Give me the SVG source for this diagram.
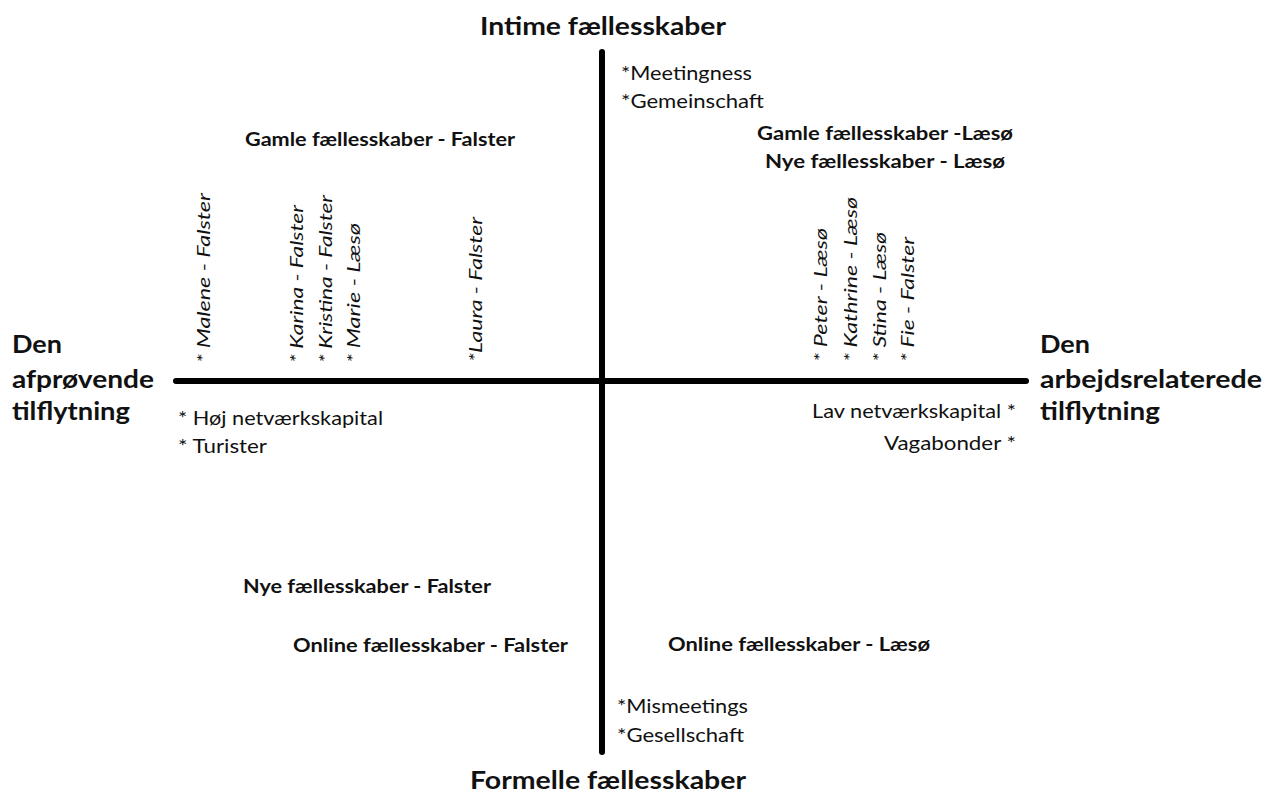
<svg xmlns="http://www.w3.org/2000/svg" width="1273" height="796" viewBox="0 0 1273 796">
<style>
text{font-family:Lato,"Open Sans","Liberation Sans",sans-serif;fill:#111;}
.t{font-weight:bold;font-size:25px;}
.b{font-weight:bold;font-size:19px;}
.r{font-size:20px;}
.i{font-style:italic;font-size:18px;}
.ax{stroke:#000;stroke-width:6;stroke-linecap:round;fill:none;}
</style>
<rect width="1273" height="796" fill="#fff"/>
<g id="connectors">
<line class="ax" x1="602" y1="52" x2="602" y2="752"/>
<line class="ax" x1="176" y1="381" x2="1026" y2="381"/>
</g>
<g id="top">
<text class="t" x="480" y="35" textLength="246" lengthAdjust="spacingAndGlyphs">Intime fællesskaber</text>
<text class="r" x="621" y="80" textLength="131" lengthAdjust="spacingAndGlyphs">*Meetingness</text>
<text class="r" x="621" y="108" textLength="143" lengthAdjust="spacingAndGlyphs">*Gemeinschaft</text>
</g>
<g id="bottom">
<text class="t" x="470" y="789" textLength="276" lengthAdjust="spacingAndGlyphs">Formelle fællesskaber</text>
<text class="r" x="617" y="713" textLength="131" lengthAdjust="spacingAndGlyphs">*Mismeetings</text>
<text class="r" x="617" y="742" textLength="127" lengthAdjust="spacingAndGlyphs">*Gesellschaft</text>
</g>
<g id="left">
<text class="t" x="12" y="353" textLength="50" lengthAdjust="spacingAndGlyphs">Den</text>
<text class="t" x="12" y="388" textLength="142" lengthAdjust="spacingAndGlyphs">afprøvende</text>
<text class="t" x="12" y="420" textLength="118" lengthAdjust="spacingAndGlyphs">tilflytning</text>
<text class="r" x="178" y="425" textLength="205" lengthAdjust="spacingAndGlyphs">* Høj netværkskapital</text>
<text class="r" x="178" y="453" textLength="89" lengthAdjust="spacingAndGlyphs">* Turister</text>
</g>
<g id="right">
<text class="t" x="1040" y="353" textLength="50" lengthAdjust="spacingAndGlyphs">Den</text>
<text class="t" x="1040" y="388" textLength="222" lengthAdjust="spacingAndGlyphs">arbejdsrelaterede</text>
<text class="t" x="1040" y="420" textLength="120" lengthAdjust="spacingAndGlyphs">tilflytning</text>
<text class="r" x="812" y="418" textLength="204" lengthAdjust="spacingAndGlyphs">Lav netværkskapital *</text>
<text class="r" x="884" y="450" textLength="132" lengthAdjust="spacingAndGlyphs">Vagabonder *</text>
</g>
<g id="quadrant-labels">
<text class="b" x="245" y="146" textLength="270" lengthAdjust="spacingAndGlyphs">Gamle fællesskaber - Falster</text>
<text class="b" x="757" y="140" textLength="256" lengthAdjust="spacingAndGlyphs">Gamle fællesskaber -Læsø</text>
<text class="b" x="765" y="168" textLength="240" lengthAdjust="spacingAndGlyphs">Nye fællesskaber - Læsø</text>
<text class="b" x="243" y="593" textLength="248" lengthAdjust="spacingAndGlyphs">Nye fællesskaber - Falster</text>
<text class="b" x="293" y="652" textLength="275" lengthAdjust="spacingAndGlyphs">Online fællesskaber - Falster</text>
<text class="b" x="668" y="651" textLength="262" lengthAdjust="spacingAndGlyphs">Online fællesskaber - Læsø</text>
</g>
<g id="persons-left">
<text class="i" transform="translate(210,363) rotate(-90)" textLength="170" lengthAdjust="spacingAndGlyphs">* Malene - Falster</text>
<text class="i" transform="translate(303,363) rotate(-90)" textLength="158" lengthAdjust="spacingAndGlyphs">* Karina - Falster</text>
<text class="i" transform="translate(332,363) rotate(-90)" textLength="168" lengthAdjust="spacingAndGlyphs">* Kristina - Falster</text>
<text class="i" transform="translate(360,363) rotate(-90)" textLength="140" lengthAdjust="spacingAndGlyphs">* Marie - Læsø</text>
<text class="i" transform="translate(482,362) rotate(-90)" textLength="145" lengthAdjust="spacingAndGlyphs">*Laura - Falster</text>
</g>
<g id="persons-right">
<text class="i" transform="translate(827,362) rotate(-90)" textLength="134" lengthAdjust="spacingAndGlyphs">* Peter - Læsø</text>
<text class="i" transform="translate(857,362) rotate(-90)" textLength="165" lengthAdjust="spacingAndGlyphs">* Kathrine - Læsø</text>
<text class="i" transform="translate(886,362) rotate(-90)" textLength="130" lengthAdjust="spacingAndGlyphs">* Stina - Læsø</text>
<text class="i" transform="translate(914,362) rotate(-90)" textLength="125" lengthAdjust="spacingAndGlyphs">* Fie - Falster</text>
</g>
</svg>
